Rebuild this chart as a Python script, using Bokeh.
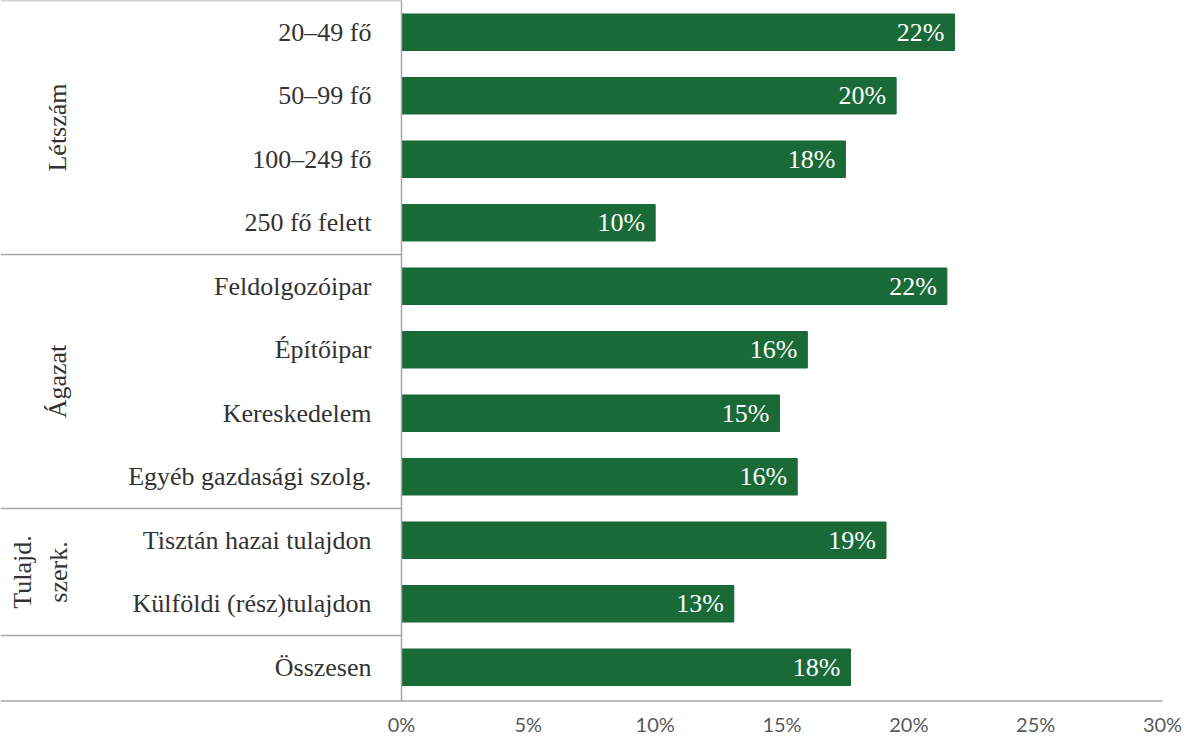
from bokeh.plotting import figure
from bokeh.models import Range1d, FixedTicker, PrintfTickFormatter, ColumnDataSource
from bokeh.core.properties import value
from bokeh.embed import file_html
from bokeh.resources import INLINE
import math

categories = ["20–49 fő", "50–99 fő", "100–249 fő", "250 fő felett",
              "Feldolgozóipar", "Építőipar", "Kereskedelem", "Egyéb gazdasági szolg.",
              "Tisztán hazai tulajdon", "Külföldi (rész)tulajdon", "Összesen"]
values = [21.8, 19.5, 17.5, 10.0, 21.5, 16.0, 14.9, 15.6, 19.1, 13.1, 17.7]
value_labels = ["22%", "20%", "18%", "10%", "22%", "16%", "15%", "16%", "19%", "13%", "18%"]
groups = ["Létszám", "Ágazat", "Tulajd.", "szerk."]
group_rows = [1.5, 5.5, 8.5, 8.5]
x_ticks = [0, 5, 10, 15, 20, 25, 30]

BAR = "#1a6a38"
LINE = "#a6a6a6"
TXT = "#333333"
SERIF = "Liberation Serif"

W, H = 1182, 737
px_per_pct = (1170 - 409) / 30.0
x_left = (8 - 409) / px_per_pct
x_right = x_left + W / px_per_pct
row_px = 63.5
y_top = -0.5
y_bottom = y_top + H / row_px
y_axis_line = 10.53

p = figure(width=W, height=H, output_backend="svg", toolbar_location=None,
           x_range=Range1d(x_left, x_right), y_range=Range1d(y_bottom, y_top),
           min_border=0, min_border_left=0, min_border_right=0,
           min_border_top=0, min_border_bottom=0)
p.outline_line_color = None
p.xgrid.visible = False
p.ygrid.visible = False
p.background_fill_color = "white"
p.border_fill_color = "white"

idx = list(range(len(categories)))
src = ColumnDataSource(dict(y=idx, v=values, lab=value_labels))
p.hbar(y="y", left=0, right="v", height=0.575, color=BAR, source=src)
p.text(x="v", y="y", text="lab", source=src, x_offset=-10, text_align="right",
       text_baseline="middle", text_color="white", text_font=value(SERIF),
       text_font_size="26px")

# frame lines
seps = [y_top, 3.5, 7.5, 9.5]
p.segment(x0=[x_left] * len(seps), x1=[0] * len(seps), y0=seps, y1=seps,
          line_color=LINE, line_width=1.5)
p.segment(x0=[x_left], x1=[30], y0=[y_axis_line], y1=[y_axis_line],
          line_color=LINE, line_width=1.5)
p.segment(x0=[0], x1=[0], y0=[y_top], y1=[y_axis_line], line_color=LINE, line_width=1.5)

# group labels
gx_px = [65, 65, 30, 66]
gx = [(g - 409) / px_per_pct for g in gx_px]
p.text(x=gx, y=group_rows, text=groups, angle=math.pi / 2, text_align="center",
       text_baseline="middle", text_color=TXT, text_font=value(SERIF),
       text_font_size="26px")

# axes
xa = p.xaxis[0]
xa.fixed_location = y_axis_line
xa.ticker = FixedTicker(ticks=x_ticks)
xa.formatter = PrintfTickFormatter(format="%d%%")
xa.axis_line_color = None
xa.major_tick_line_color = None
xa.minor_tick_line_color = None
xa.major_label_standoff = 5
xa.major_label_text_font = "Lato"
xa.major_label_text_font_size = "20px"
xa.major_label_text_color = "#595959"

ya = p.yaxis[0]
ya.fixed_location = 0
ya.ticker = FixedTicker(ticks=idx)
ya.major_label_overrides = {i: c for i, c in enumerate(categories)}
ya.axis_line_color = None
ya.major_tick_line_color = None
ya.minor_tick_line_color = None
ya.major_label_standoff = 24
ya.major_label_text_font = SERIF
ya.major_label_text_font_size = "26px"
ya.major_label_text_color = TXT

open("out.html", "w").write(file_html(p, INLINE))
